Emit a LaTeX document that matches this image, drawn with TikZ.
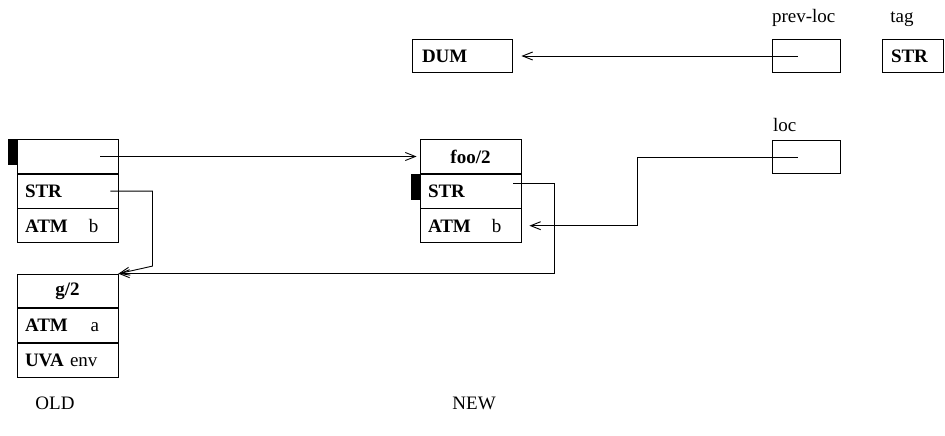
\documentclass[tikz,border=0pt]{standalone}
\usepackage{fontspec}
\setmainfont{Liberation Serif}
\usetikzlibrary{positioning,arrows.meta,calc}

\begin{document}
\begin{tikzpicture}[
  x=1pt, y=-1pt,
  font=\fontsize{19}{22}\selectfont,
  line width=0.9pt,
  cell/.style={draw, minimum height=33.7pt, inner ysep=0pt, inner xsep=8pt,
               text width=#1, align=left},
  cell/.default=85pt,
  head/.style={cell, align=center},
  slot/.style={draw, minimum width=68pt, minimum height=33.7pt, inner sep=0pt},
  lbl/.style={inner sep=0pt},
  arr/.style={-{Straight Barb[length=10pt,width=8pt]}},
  markbox/.style={fill=black},
]
\useasboundingbox (0,0) rectangle (945,436);

% ---------- OLD ----------
\node[cell] (o1) at (67.5,156.5) {};
\node[cell, below=0pt of o1] (o2) {\textbf{STR}};
\node[cell, below=0pt of o2] (o3) {\textbf{ATM}\hspace{1.1em}b};

\node[head] (g1) at (67.5,291) {\textbf{g/2}};
\node[cell, below=0pt of g1] (g2) {\textbf{ATM}\hspace{1.2em}a};
\node[cell, below=0pt of g2] (g3) {\textbf{UVA} env};

% ---------- NEW ----------
\node[head] (f1) at (470.5,156.5) {\textbf{foo/2}};
\node[cell, below=0pt of f1] (f2) {\textbf{STR}};
\node[cell, below=0pt of f2] (f3) {\textbf{ATM}\hspace{1.1em}b};

\node[cell=80pt, inner xsep=10pt] (dum) at (462,56) {\textbf{DUM}};

% ---------- Registers ----------
\node[slot] (prevloc) at (806,56) {};
\node[slot] (loc) at (806,157) {};
\node[cell=43pt, inner xsep=9pt] (tag) at (912.5,56) {\textbf{STR}};

\node[lbl, anchor=base west] (lprevloc) at ($(prevloc.north west)+(0,-16)$) {prev-loc};
\node[lbl, anchor=base west] (lloc) at ($(loc.north west)+(1,-8)$) {loc};
\node[lbl, anchor=base] (ltag) at (902,23) {tag};

% ---------- Markers ----------
\fill[markbox] (o1.north west) rectangle ++(-9,26);
\fill[markbox] (f2.north west) rectangle ++(-9,26);

% ---------- Arrows ----------
\draw[arr, shorten >=3pt] ($(o1.east)+(-18,0)$) -- (f1.west);
\draw[arr] ($(o2.east)+(-8,0)$) -- ++(42,0) -- ++(0,75) -- (g1.north east);
\draw[arr] ($(f2.east)+(-8,-8)$) -- ++(41,0) |- (g1.north east);
\draw[arr] ($(loc.west)+(26,0)$) -- ++(-160,0) |- ($(f3.east)+(8,0)$);
\draw[arr] ($(prevloc.west)+(26,0)$) -- ($(dum.east)+(9,0)$);

% ---------- Captions ----------
\node[lbl, anchor=base west] (old) at (35,409.5) {OLD};
\node[lbl, anchor=base west] (new) at (452,409.5) {NEW};
\end{tikzpicture}
\end{document}
